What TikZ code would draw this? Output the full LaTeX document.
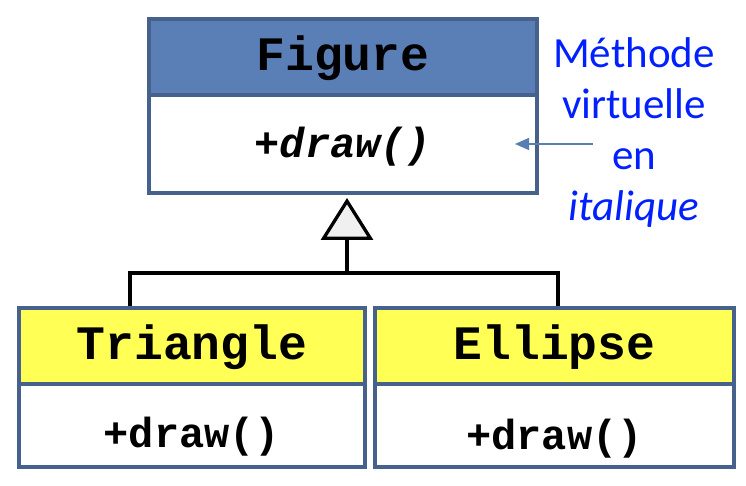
\documentclass[tikz,border=0pt]{standalone}
\usepackage{fontspec}
\setmonofont{Liberation Mono}
\newfontfamily\notefont{Carlito}
\usepackage{xcolor}
\usetikzlibrary{positioning,arrows.meta}
\definecolor{borderblue}{RGB}{70,98,140}
\definecolor{headblue}{RGB}{90,127,182}
\definecolor{classyellow}{RGB}{255,255,85}
\definecolor{arrowblue}{RGB}{90,125,180}
\definecolor{noteblue}{RGB}{0,32,255}

\begin{document}
\begin{tikzpicture}[x=1pt, y=1pt,
    classhead/.style={draw=borderblue, line width=4pt, outer sep=0pt, inner sep=0pt,
      font=\ttfamily\bfseries\fontsize{48}{56}\selectfont,
      text height=27pt, text depth=0pt, minimum height=76pt},
    classbody/.style={draw=borderblue, fill=white, line width=4pt, outer sep=0pt, inner sep=0pt,
      font=\ttfamily\bfseries\fontsize{42}{50}\selectfont, text depth=0pt},
    inherit/.style={line width=3.3pt, line join=miter},
    notearrow/.style={draw=arrowblue, line width=1.5pt, -{Triangle[length=14pt, width=12pt]}}]
    \useasboundingbox (0,0) rectangle (746,486);

    % Connectors (behind the class boxes)
    \coordinate (forkL) at (130,213);
    \coordinate (forkM) at (347,213);
    \coordinate (forkR) at (558,213);
    \coordinate (trihead-top) at (130,140);
    \coordinate (ellhead-top) at (558,140);
    \draw[inherit] (trihead-top) |- (forkR) -- (ellhead-top);

    % Base class
    \node[classhead, fill=headblue, minimum width=388pt] (fighead) at (343,429) {Figure};
    \node[classbody, minimum width=388pt, minimum height=98pt, text height=28pt,
      below=0pt of fighead] (figbody) {\itshape +draw()};

    % Derived classes
    \node[classhead, fill=classyellow, minimum width=346pt] (trihead) at (192,140) {Triangle};
    \node[classbody, minimum width=346pt, minimum height=83pt, text height=45pt,
      below=0pt of trihead] (tribody) {+draw()};
    \node[classhead, fill=classyellow, minimum width=359pt, right=10pt of trihead] (ellhead) {Ellipse};
    \node[classbody, minimum width=359pt, minimum height=83pt, text height=49pt,
      below=0pt of ellhead] (ellbody) {+draw()};

    % Inheritance arrow
    \draw[inherit, shorten >=5pt,
      -{Triangle[open, length=42pt, width=52pt, fill=black!6]}] (forkM) -- (figbody.south -| forkM);

    % Note
    \node[font=\notefont\fontsize{43}{51}\selectfont, text=noteblue, align=center] (note)
      at (634,353) {Méthode\\virtuelle\\en\\\textit{italique}};
    \coordinate (notetail) at (593,342);
    \draw[notearrow] (notetail) -- ([xshift=-22pt]figbody.east);
\end{tikzpicture}
\end{document}
